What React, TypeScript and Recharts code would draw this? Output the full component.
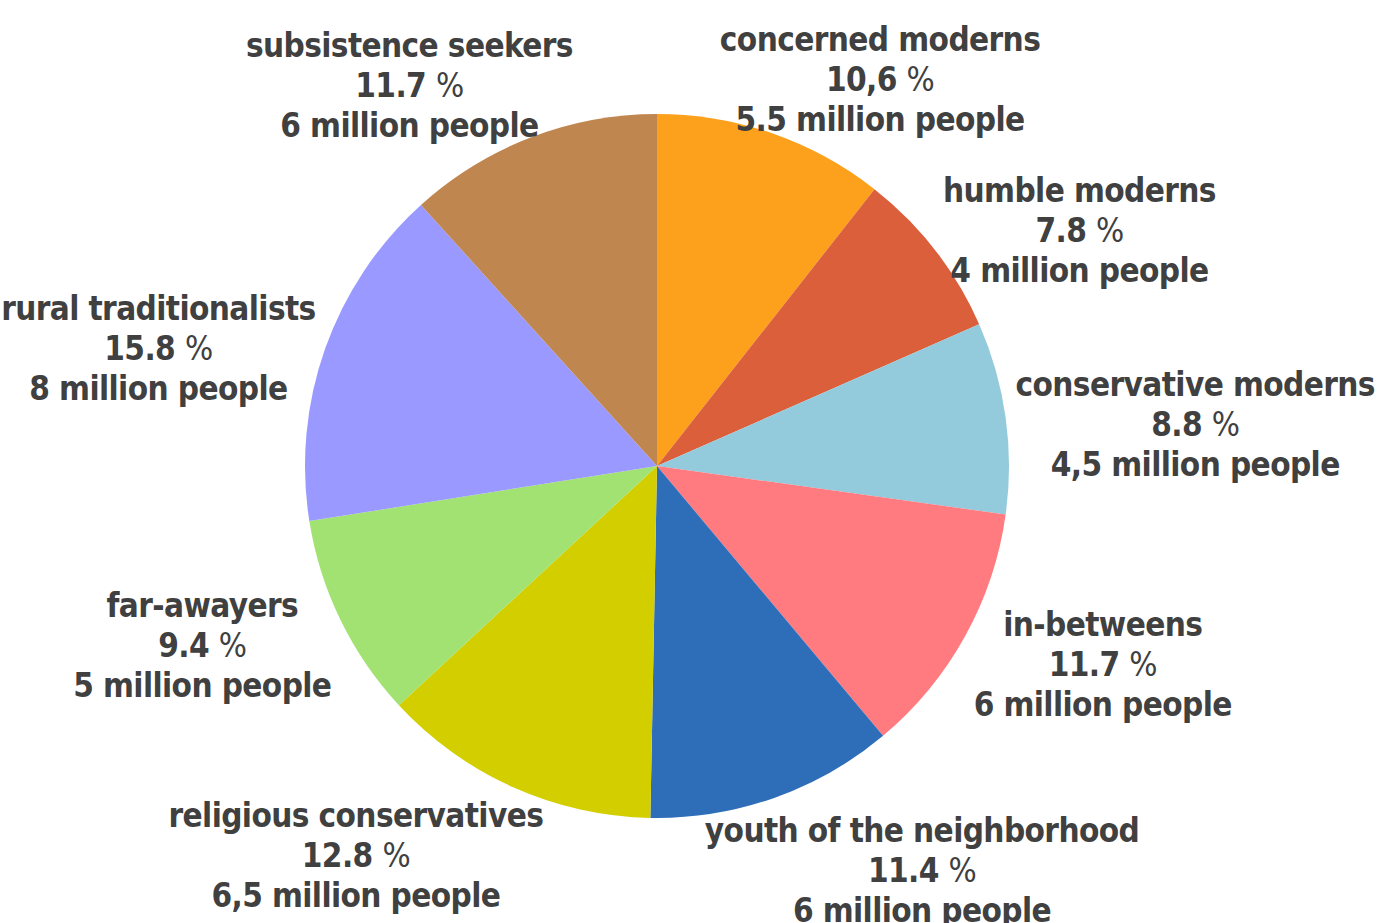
import { PieChart, Pie, Cell } from "recharts";

const segments = [
  "concerned moderns",
  "humble moderns",
  "conservative moderns",
  "in-betweens",
  "youth of the neighborhood",
  "religious conservatives",
  "far-awayers",
  "rural traditionalists",
  "subsistence seekers",
];
const shares = [10.6, 7.8, 8.8, 11.7, 11.4, 12.8, 9.4, 15.8, 11.7];
const shareLabels = ["10,6", "7.8", "8.8", "11.7", "11.4", "12.8", "9.4", "15.8", "11.7"];
const populations = [
  "5.5 million people",
  "4 million people",
  "4,5 million people",
  "6 million people",
  "6 million people",
  "6,5 million people",
  "5 million people",
  "8 million people",
  "6 million people",
];
const colors = [
  "#FDA01B",
  "#DB5F3A",
  "#93CADC",
  "#FF7B7F",
  "#2E6DB8",
  "#D2CE00",
  "#A1E272",
  "#9999FF",
  "#C0864F",
];

const data = segments.map((name, i) => ({ name, value: shares[i] }));

const FONT = "'DejaVu Sans Condensed', 'DejaVu Sans', sans-serif";
const FS = 33;
const SPACING = -0.6;
const LINE = 40;
const RADIAN = Math.PI / 180;

let ctx: CanvasRenderingContext2D | null = null;
function textWidth(s: string) {
  if (!ctx) ctx = document.createElement("canvas").getContext("2d");
  if (!ctx) return s.length * FS * 0.58;
  ctx.font = `bold ${FS}px 'DejaVu Sans Condensed'`;
  return ctx.measureText(s).width + SPACING * s.length;
}

// label box sits just outside the rim, pushed outwards along the slice's mid angle
function SliceLabel({ cx, cy, midAngle, outerRadius, index }: any) {
  const cos = Math.cos(-midAngle * RADIAN);
  const sin = Math.sin(-midAngle * RADIAN);
  const ax = cx + (outerRadius + 10) * cos;
  const ay = cy + (outerRadius + 10) * sin;
  const lines = [segments[index], shareLabels[index] + " %", populations[index]];
  const w = Math.max(...lines.map(textWidth));
  const h = LINE * 3;
  const fx = Math.max(-1, Math.min(1, cos * 2));
  const lx = ax + (fx * w) / 2;
  const ly = ay + (sin * Math.abs(sin) * h) / 2 + 9;
  const top = ly - LINE + FS * 0.36;
  return (
    <text
      x={lx}
      y={top}
      textAnchor="middle"
      fill="#404040"
      fontFamily={FONT}
      fontWeight="bold"
      fontSize={FS}
      letterSpacing={SPACING}
    >
      <tspan x={lx} y={top}>{segments[index]}</tspan>
      <tspan x={lx} y={top + LINE}>
        {shareLabels[index]} <tspan fontWeight="normal">%</tspan>
      </tspan>
      <tspan x={lx} y={top + LINE * 2}>{populations[index]}</tspan>
    </text>
  );
}

export default function App() {
  return (
    <div style={{ position: "absolute", left: 0, top: 0, width: 1377, height: 923, background: "#fff" }}>
      <PieChart width={1377} height={923} margin={{ top: 0, right: 0, bottom: 0, left: 0 }}>
        <Pie
          data={data}
          dataKey="value"
          nameKey="name"
          cx={657}
          cy={466}
          outerRadius={352}
          startAngle={90}
          endAngle={-270}
          stroke="none"
          labelLine={false}
          label={SliceLabel}
          isAnimationActive={false}
        >
          {data.map((d, i) => (
            <Cell key={d.name} fill={colors[i]} />
          ))}
        </Pie>
      </PieChart>
    </div>
  );
}
